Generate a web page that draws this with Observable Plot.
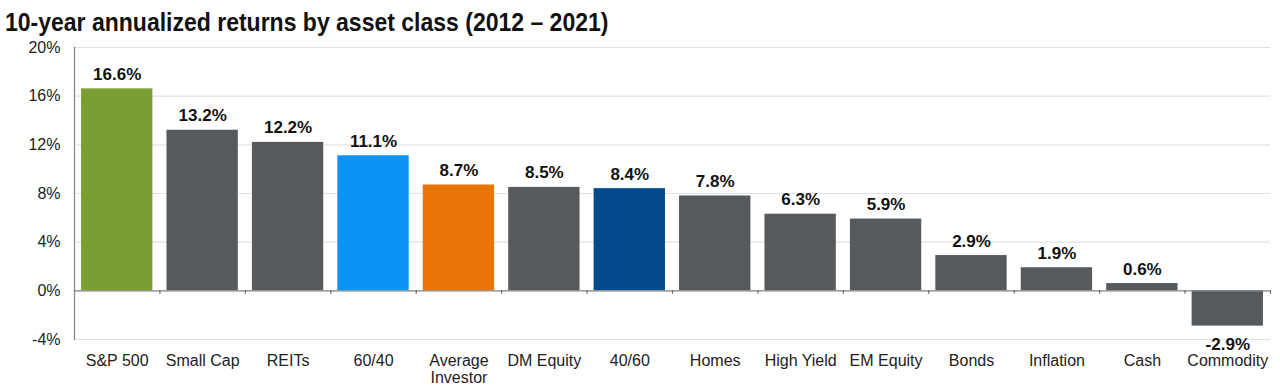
<!DOCTYPE html>
<html>
<head>
<meta charset="utf-8">
<script src="https://cdn.jsdelivr.net/npm/d3@7"></script>
<script src="https://cdn.jsdelivr.net/npm/@observablehq/plot@0.6"></script>
<style>
  html, body { margin: 0; padding: 0; background: #fff; }
  #wrap { position: relative; width: 1280px; height: 391px; overflow: hidden; font-family: Arial, "Liberation Sans", sans-serif; }
  #title { position: absolute; left: 5px; top: 12px; font-size: 23px; line-height: 23px; font-weight: bold; color: #111;
           white-space: nowrap; transform: scaleY(1.13); transform-origin: 0 19.5px; }
  #titlebox { height: 38px; }
  svg { display: block; }
</style>
</head>
<body>
<div id="wrap">
  <div id="titlebox"><div id="title">10-year annualized returns by asset class (2012 – 2021)</div></div>
  <div id="chart"></div>
</div>
<script>
const categories = ["S&P 500","Small Cap","REITs","60/40","Average Investor","DM Equity","40/60","Homes","High Yield","EM Equity","Bonds","Inflation","Cash","Commodity"];
const tickLabels = ["S&P 500","Small Cap","REITs","60/40","Average\nInvestor","DM Equity","40/60","Homes","High Yield","EM Equity","Bonds","Inflation","Cash","Commodity"];
const values = [16.6,13.2,12.2,11.1,8.7,8.5,8.4,7.8,6.3,5.9,2.9,1.9,0.6,-2.9];
const barColors = ["#7a9e31","#575a5d","#575a5d","#0b93f6","#e97509","#575a5d","#034a8c","#575a5d","#575a5d","#575a5d","#575a5d","#575a5d","#575a5d","#575a5d"];
const yTicks = [-4,0,4,8,12,16,20];

const data = categories.map((c, i) => ({cat: c, label: tickLabels[i], v: values[i], color: barColors[i]}));

const W = 1280, H = 353;
const mL = 74, mR = 10, mT = 9, mB = 52;
const step = (W - mL - mR) / categories.length;

const chart = Plot.plot({
  width: W,
  height: H,
  marginLeft: mL,
  marginRight: mR,
  marginTop: mT,
  marginBottom: mB,
  style: {fontFamily: 'Arial, "Liberation Sans", sans-serif', color: "#222", background: "#fff"},
  x: {domain: categories, paddingInner: 0.165, paddingOuter: 0.0825, round: false, axis: null},
  y: {domain: [-4, 20], axis: null},
  color: {type: "identity"},
  marks: [
    Plot.ruleY(yTicks, {stroke: "#e2e2e2", strokeWidth: 1.2}),
    Plot.axisY({ticks: yTicks, tickSize: 0, tickPadding: 14, tickFormat: d => d + "%", fontSize: 16, fill: "#222", label: null}),
    Plot.barY(data, {x: "cat", y: "v", fill: "color"}),
    Plot.ruleY([0], {stroke: "#8a8a8a", strokeWidth: 1.3}),
    Plot.ruleX(categories, {x: d => d, y1: 0, y2: -0.28, dx: step / 2, stroke: "#666", strokeWidth: 1.2}),
    Plot.frame({anchor: "left", stroke: "#8a8a8a", strokeWidth: 1.3}),
    Plot.text(data.filter(d => d.v >= 0), {x: "cat", y: "v", text: d => d.v.toFixed(1) + "%", lineAnchor: "bottom", dy: -9, fontSize: 17, fontWeight: "bold", fill: "#111"}),
    Plot.text(data.filter(d => d.v < 0), {x: "cat", y: "v", text: d => d.v.toFixed(1) + "%", lineAnchor: "bottom", dy: 23.5, fontSize: 17, fontWeight: "bold", fill: "#111"}),
    Plot.text(data, {x: "cat", frameAnchor: "bottom", text: "label", lineAnchor: "top", dy: 15, fontSize: 16, lineHeight: 1.05, fill: "#222"})
  ]
});
document.getElementById("chart").appendChild(chart);
</script>
</body>
</html>
